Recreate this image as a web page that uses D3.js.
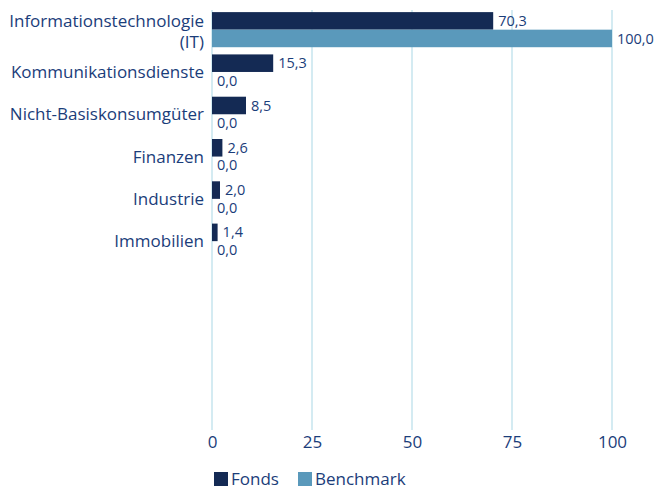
<!DOCTYPE html>
<html><head><meta charset="utf-8">
<script src="https://cdn.jsdelivr.net/npm/d3@7"></script>
<style>body{margin:0;background:#fff}svg{display:block}text{font-family:"Open Sans",sans-serif}</style>
</head><body><svg id="c" width="658" height="491"></svg>
<script>
const categories = ["Informationstechnologie (IT)","Kommunikationsdienste","Nicht-Basiskonsumgüter","Finanzen","Industrie","Immobilien","","","",""];
const fonds = [70.3,15.3,8.5,2.6,2.0,1.4];
const benchmark = [100.0,0.0,0.0,0.0,0.0,0.0];
const seriesNames = ["Fonds","Benchmark"];
const xTicks = [0,25,50,75,100];
const colors = ["#142a54","#5a99bb"];
const textColor = "#1b3d7a";

const svg = d3.select("#c");
const slots = categories.map((c,i)=>c===""?"_"+i:c);
const x = d3.scaleLinear().domain([0,100]).range([212,612]);
const y = d3.scaleBand().domain(slots).range([10,430]).paddingInner(0.17).paddingOuter(0.05);
const y1 = d3.scaleBand().domain(seriesNames).range([0,y.bandwidth()]);

// grid
svg.append("g").selectAll("line").data(xTicks).join("line")
  .attr("x1",d=>x(d)).attr("x2",d=>x(d)).attr("y1",10).attr("y2",430)
  .attr("stroke","#c6e4ee").attr("stroke-width",1.5);

// x axis labels
const xAxis = d3.axisBottom(x).tickValues(xTicks).tickSize(0).tickPadding(0).tickFormat(d3.format("d"));
const gx = svg.append("g").attr("transform","translate(0,436)").call(xAxis);
gx.select(".domain").remove();
gx.selectAll("text").attr("fill",textColor).style("font-size","17px").style("font-family","'Open Sans',sans-serif");

// category labels
const gy = svg.append("g");
categories.forEach((c,i)=>{
  if(!c) return;
  const yc = y(slots[i]) + y.bandwidth()/2;
  if(c==="Informationstechnologie (IT)"){
    gy.append("text").attr("x",204).attr("y",yc-8.5).attr("dy","0.35em").attr("text-anchor","end")
      .attr("fill",textColor).style("font-size","17px").text("Informationstechnologie");
    gy.append("text").attr("x",204).attr("y",yc+12.5).attr("dy","0.35em").attr("text-anchor","end")
      .attr("fill",textColor).style("font-size","17px").text("(IT)");
  } else {
    gy.append("text").attr("x",204).attr("y",yc).attr("dy","0.35em").attr("text-anchor","end")
      .attr("fill",textColor).style("font-size","17px").text(c);
  }
});

const data = [fonds, benchmark];
const fmt = v => v.toFixed(1).replace(".",",");
data.forEach((vals,si)=>{
  const g = svg.append("g");
  g.selectAll("rect").data(vals).join("rect")
    .attr("x",x(0)).attr("y",(d,i)=>y(slots[i])+y1(seriesNames[si]))
    .attr("width",d=>x(d)-x(0)).attr("height",y1.bandwidth())
    .attr("fill",colors[si]);
  g.selectAll("text").data(vals).join("text")
    .attr("x",d=>x(d)+5).attr("y",(d,i)=>y(slots[i])+y1(seriesNames[si])+y1.bandwidth()/2)
    .attr("dy","0.35em").attr("fill",textColor).style("font-size","14.5px")
    .text(d=>fmt(d));
});

// legend
const lg = svg.append("g");
const lx = [214, 298];
seriesNames.forEach((n,i)=>{
  lg.append("rect").attr("x",lx[i]).attr("y",472).attr("width",14).attr("height",14).attr("fill",colors[i]);
  lg.append("text").attr("x",lx[i]+17).attr("y",479).attr("dy","0.35em").attr("fill",textColor).style("font-size","17px").text(n);
});
</script></body></html>
